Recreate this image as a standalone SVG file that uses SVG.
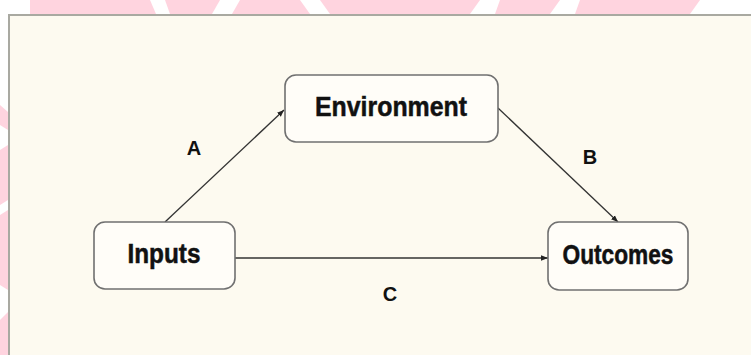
<svg xmlns="http://www.w3.org/2000/svg" width="751" height="355" viewBox="0 0 751 355">
<style>
.box{fill:#fffdf8;stroke:#707070;stroke-width:1.6}
.lbl{font-family:"Liberation Sans",Arial,sans-serif;font-weight:bold;fill:#111;text-anchor:middle}
.node{font-size:27px;stroke:#111;stroke-width:0.5}
.edge{font-size:20px}
.wm{fill:#ffd4df}
.conn{stroke:#333;stroke-width:1.3;fill:none;marker-end:url(#ah)}
</style>
<defs>
<marker id="ah" viewBox="0 0 10 10" refX="10" refY="5" markerWidth="7" markerHeight="7" markerUnits="userSpaceOnUse" orient="auto">
<path d="M0,1 L10,5 L0,9 Z" fill="#222"/>
</marker>
</defs>
<rect width="751" height="355" fill="#ffffff"/>
<g id="watermark">
<path class="wm" d="M30,0 H150 L156,14 H30 Z"/>
<path class="wm" d="M165,0 H220 L212,14 H170 Z"/>
<path class="wm" d="M240,0 H300 L310,14 H232 Z"/>
<path class="wm" d="M320,0 H480 L470,14 H330 Z"/>
<path class="wm" d="M500,0 H560 L550,14 H495 Z"/>
<path class="wm" d="M580,0 H700 L690,14 H575 Z"/>
<path class="wm" d="M0,105 L8,112 V130 L0,125 Z"/>
<path class="wm" d="M0,150 L8,145 V200 L0,205 Z"/>
<path class="wm" d="M0,215 L8,210 V290 L0,285 Z"/>
<path class="wm" d="M0,320 L8,312 V355 H0 Z"/>
</g>
<rect x="9" y="15" width="750" height="350" fill="#fdfaf0" stroke="#a9a9a1" stroke-width="2"/>
<g id="connectors">
<line class="conn" x1="165" y1="222" x2="284" y2="110"/>
<line class="conn" x1="498" y1="108" x2="618" y2="222"/>
<line class="conn" x1="235" y1="258" x2="548" y2="258" stroke-width="1.8"/>
<text class="lbl edge" x="194" y="155">A</text>
<text class="lbl edge" x="590" y="164">B</text>
<text class="lbl edge" x="390" y="301">C</text>
</g>
<g id="environment">
<rect class="box" x="285" y="75" width="213" height="67" rx="11"/>
<text class="lbl node" x="391" y="116" textLength="152" lengthAdjust="spacingAndGlyphs">Environment</text>
</g>
<g id="inputs">
<rect class="box" x="94" y="222" width="141" height="67" rx="11"/>
<text class="lbl node" x="164" y="263" textLength="73" lengthAdjust="spacingAndGlyphs">Inputs</text>
</g>
<g id="outcomes">
<rect class="box" x="548" y="222" width="140" height="68" rx="11"/>
<text class="lbl node" x="618" y="264" textLength="111" lengthAdjust="spacingAndGlyphs">Outcomes</text>
</g>
</svg>
